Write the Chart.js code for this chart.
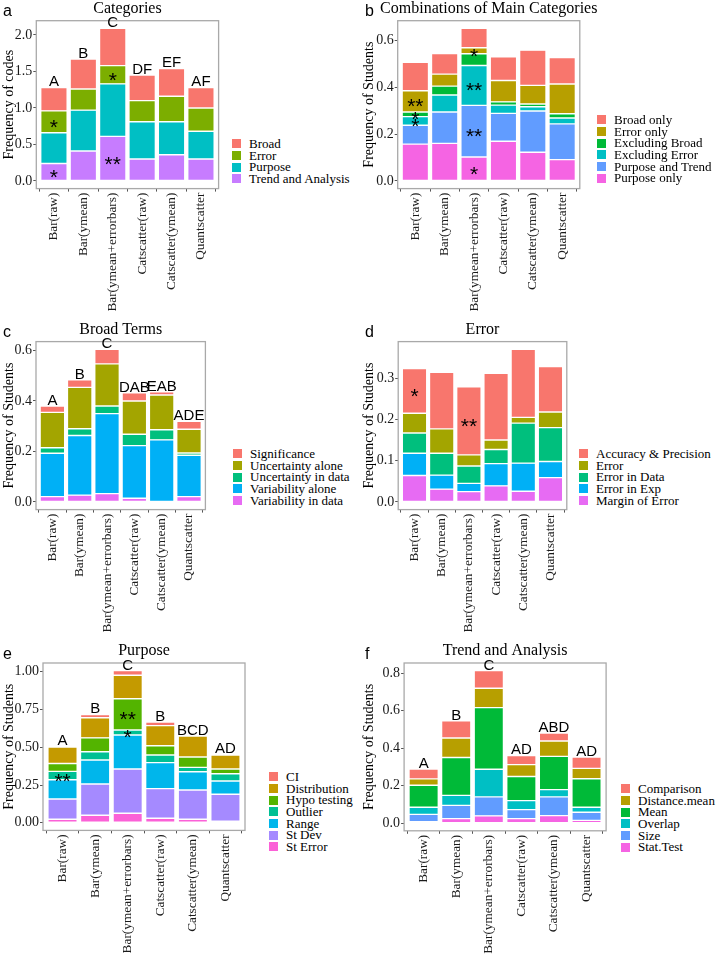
<!DOCTYPE html>
<html><head><meta charset="utf-8">
<script src="https://cdn.jsdelivr.net/npm/chart.js@4/dist/chart.umd.min.js"></script>
<style>
html,body{margin:0;padding:0;background:#fff;width:717px;height:957px;overflow:hidden;}
canvas{position:absolute;}
.legend{position:absolute;font-family:"Liberation Serif","Times New Roman",serif;font-size:13px;color:#000;z-index:5;}
.legend .row{display:flex;align-items:center;height:11.7px;white-space:nowrap;line-height:11.7px;}
.legend .key{width:11px;height:11px;margin-right:7px;box-sizing:border-box;border:0.6px solid #fff;}
</style></head><body>
<script>
// ---------- DATA ----------
const categories = ["Bar(raw)","Bar(ymean)","Bar(ymean+errorbars)","Catscatter(raw)","Catscatter(ymean)","Quantscatter"];

// a: Categories (legend order = top of stack first)
const aSeries = ["Broad","Error","Purpose","Trend and Analysis"];
const aBroad   = [0.32,0.41,0.51,0.35,0.38,0.28];
const aError   = [0.30,0.29,0.25,0.29,0.35,0.32];
const aPurpose = [0.42,0.56,0.72,0.51,0.45,0.38];
const aTrend   = [0.24,0.41,0.61,0.30,0.36,0.30];
const aLetters = ["A","B","C","DF","EF","AF"];
const aStars   = [[0,"Trend and Analysis","*"],[0,"Error","*"],[2,"Error","*"],[2,"Trend and Analysis","**"]];
const aTicks   = [0,0.5,1.0,1.5,2.0];

// b: Combinations of Main Categories
const bSeries = ["Broad only","Error only","Excluding Broad","Excluding Error","Purpose and Trend","Purpose only"];
const bBroadOnly    = [0.121,0.088,0.083,0.101,0.150,0.113];
const bErrorOnly    = [0.090,0.051,0.025,0.091,0.079,0.127];
const bExclBroad    = [0.020,0.038,0.050,0.014,0.012,0.018];
const bExclError    = [0.037,0.072,0.170,0.035,0.018,0.025];
const bPurposeTrend = [0.080,0.134,0.220,0.119,0.176,0.152];
const bPurposeOnly  = [0.157,0.160,0.102,0.169,0.122,0.091];
const bStars = [[0,"Error only","**"],[0,"Excluding Broad","*"],[0,"Excluding Error","*"],
                [2,"Error only","*"],[2,"Excluding Error","**"],[2,"Purpose and Trend","**"],[2,"Purpose only","*"]];
const bTicks = [0,0.2,0.4,0.6];

// c: Broad Terms
const cSeries = ["Significance","Uncertainty alone","Uncertainty in data","Variability alone","Variability in data"];
const cSignif   = [0.025,0.030,0.058,0.032,0.012,0.032];
const cUncAlone = [0.140,0.164,0.167,0.132,0.138,0.094];
const cUncData  = [0.022,0.027,0.030,0.045,0.040,0.009];
const cVarAlone = [0.172,0.236,0.317,0.208,0.246,0.164];
const cVarData  = [0.021,0.027,0.033,0.015,0.000,0.021];
const cLetters  = ["A","B","C","DAB","EAB","ADE"];
const cTicks    = [0,0.2,0.4,0.6];

// d: Error
const dSeries = ["Accuracy & Precision","Error","Error in Data","Error in Exp","Margin of Error"];
const dAccuracy = [0.108,0.137,0.165,0.162,0.165,0.110];
const dError    = [0.048,0.059,0.027,0.023,0.014,0.038];
const dInData   = [0.049,0.053,0.042,0.034,0.097,0.082];
const dInExp    = [0.054,0.034,0.020,0.054,0.068,0.039];
const dMargin   = [0.064,0.031,0.025,0.039,0.026,0.059];
const dStars    = [[0,"Accuracy & Precision","*"],[2,"Accuracy & Precision","**"]];
const dTicks    = [0,0.1,0.2,0.3];

// e: Purpose
const eSeries = ["CI","Distribution","Hypo testing","Outlier","Range","St Dev","St Error"];
const eCI      = [0.008,0.022,0.031,0.024,0.000,0.005];
const eDist    = [0.110,0.133,0.155,0.133,0.139,0.093];
const eHypo    = [0.052,0.092,0.207,0.061,0.068,0.031];
const eOutlier = [0.055,0.055,0.033,0.051,0.029,0.048];
const eRange   = [0.128,0.158,0.225,0.172,0.121,0.088];
const eStDev   = [0.134,0.207,0.293,0.196,0.194,0.179];
const eStErr   = [0.023,0.050,0.063,0.030,0.023,0.010];
const eLetters = ["A","B","C","B","BCD","AD"];
const eStars   = [[0,"Outlier","**"],[2,"Hypo testing","**"],[2,"Outlier","*"]];
const eTicks   = [0,0.25,0.5,0.75,1.0];

// f: Trend and Analysis
const fSeries = ["Comparison","Distance.mean","Mean","Overlap","Size","Stat.Test"];
const fComparison = [0.053,0.091,0.094,0.049,0.042,0.061];
const fDistMean   = [0.034,0.104,0.103,0.063,0.082,0.055];
const fMean       = [0.117,0.202,0.329,0.129,0.177,0.152];
const fOverlap    = [0.038,0.053,0.147,0.048,0.039,0.027];
const fSize       = [0.039,0.071,0.101,0.048,0.100,0.043];
const fStatTest   = [0.008,0.024,0.039,0.024,0.040,0.015];
const fLetters    = ["A","B","C","AD","ABD","AD"];
const fTicks      = [0,0.2,0.4,0.6,0.8];

// ---------- STYLE ----------
const pal4 = ["#F8766D","#7CAE00","#00BFC4","#C77CFF"];
const pal5 = ["#F8766D","#A3A500","#00BF7D","#00B0F6","#E76BF3"];
const pal6 = ["#F8766D","#B79F00","#00BA38","#00BFC4","#619CFF","#F564E3"];
const pal7 = ["#F8766D","#C49A00","#53B400","#00C094","#00B6EB","#A58AFF","#FB61D7"];
const SERIF = '"Liberation Serif","Times New Roman",serif';
const SANS  = '"Liberation Sans",Arial,sans-serif';

const annotPlugin = {
  id: 'annot',
  afterDatasetsDraw(chart) {
    const o = chart.options.plugins.annot;
    const {ctx, chartArea: ca} = chart;
    const x = chart.scales.x, y = chart.scales.y;
    ctx.save();
    // frame
    ctx.strokeStyle = '#a9a9a9'; ctx.lineWidth = 1.3;
    ctx.strokeRect(ca.left, ca.top, ca.right - ca.left, ca.bottom - ca.top);
    ctx.fillStyle = '#000';
    ctx.textAlign = 'center'; ctx.textBaseline = 'alphabetic';
    // letters above bars
    if (o.letters) {
      ctx.font = '15px ' + SANS;
      o.letters.forEach((t, i) => {
        ctx.fillText(t, x.getPixelForValue(i), y.getPixelForValue(o.totals[i]) - 1);
      });
    }
    // stars at segment middles
    if (o.stars) {
      ctx.font = '21px ' + SANS;
      o.stars.forEach(([i, s, t]) => {
        const k = o.series.indexOf(s);
        let below = 0;
        for (let j = o.series.length - 1; j > k; j--) below += o.values[j][i];
        const mid = below + o.values[k][i] / 2;
        ctx.fillText(t, x.getPixelForValue(i), y.getPixelForValue(mid) + 12);
      });
    }
    // title
    ctx.font = '16px ' + SERIF;
    ctx.fillText(o.title, (ca.left + ca.right) / 2, ca.top - 7.7);
    // panel letter
    ctx.textAlign = 'left';
    ctx.font = '16px ' + SANS;
    ctx.fillText(o.letter, o.letterX, ca.top - 4.5);
    ctx.restore();
  }
};

function panel(cfg) {
  const {series, values, colors, letters, stars, ticks, dec, yTitle, title, letter,
         cx, cy, cw, ch, L, R, T, B, letterX} = cfg;
  const cv = document.createElement('canvas');
  cv.width = cw; cv.height = ch;
  cv.style.left = cx + 'px'; cv.style.top = cy + 'px';
  cv.style.width = cw + 'px'; cv.style.height = ch + 'px';
  document.body.appendChild(cv);

  const totals = categories.map((_, i) => values.reduce((s, arr) => s + arr[i], 0));
  const maxT = Math.max(...totals);
  const datasets = [];
  for (let k = series.length - 1; k >= 0; k--) {
    datasets.push({
      label: series[k],
      data: values[k].map((v, i) => ({x: i, y: v})),
      backgroundColor: colors[k],
      borderColor: '#ffffff', borderWidth: 0.7, borderSkipped: false,
      barPercentage: 0.9, categoryPercentage: 1.0
    });
  }
  new Chart(cv, {
    type: 'bar',
    data: {datasets},
    plugins: [annotPlugin],
    options: {
      responsive: false, animation: false, events: [],
      layout: {padding: {top: T - cy, right: cx + cw - R, left: 0, bottom: 0}},
      plugins: {
        legend: {display: false}, tooltip: {enabled: false},
        annot: {letters, stars, totals, series, values, title, letter, letterX}
      },
      scales: {
        x: {
          type: 'linear', min: -0.6, max: categories.length - 0.4, stacked: true, offset: false,
          grid: {drawOnChartArea: false, drawTicks: true, tickLength: 3, color: '#555'},
          border: {display: false},
          afterBuildTicks: s => { s.ticks = categories.map((_, i) => ({value: i})); },
          afterFit: s => { s.height = cy + ch - B; },
          ticks: {autoSkip: false, minRotation: 90, maxRotation: 90, padding: 1,
                  font: {family: SERIF, size: 13.3}, color: '#1a1a1a',
                  callback: v => categories[v]}
        },
        y: {
          type: 'linear', stacked: true, min: -0.05 * maxT, max: 1.05 * maxT,
          grid: {drawOnChartArea: false, drawTicks: true, tickLength: 3, color: '#555'},
          border: {display: false},
          afterBuildTicks: s => { s.ticks = ticks.map(v => ({value: v})); },
          afterFit: s => { s.width = L - cx; },
          ticks: {padding: 1, font: {family: SERIF, size: 14}, color: '#1a1a1a',
                  callback: v => Number(v).toFixed(dec)},
          title: {display: true, text: yTitle, font: {family: SERIF, size: 14, lineHeight: 1},
                  color: '#000', padding: {top: 2, bottom: 0}}
        }
      }
    }
  });
}

function legend(series, colors, left, top) {
  const d = document.createElement('div');
  d.className = 'legend';
  d.style.left = left + 'px'; d.style.top = top + 'px';
  series.forEach((s, k) => {
    const r = document.createElement('div'); r.className = 'row';
    const key = document.createElement('div'); key.className = 'key'; key.style.background = colors[k];
    const t = document.createElement('span'); t.textContent = s;
    r.appendChild(key); r.appendChild(t); d.appendChild(r);
  });
  document.body.appendChild(d);
}

panel({series: aSeries, values: [aBroad,aError,aPurpose,aTrend], colors: pal4, letters: aLetters, stars: aStars,
  ticks: aTicks, dec: 1, yTitle: "Frequency of codes", title: "Categories", letter: "a", letterX: 3,
  cx: 0, cy: 0, cw: 228, ch: 320, L: 36.3, R: 218.6, T: 20.7, B: 188.6});
legend(aSeries, pal4, 231, 138);

panel({series: bSeries, values: [bBroadOnly,bErrorOnly,bExclBroad,bExclError,bPurposeTrend,bPurposeOnly], colors: pal6,
  letters: null, stars: bStars, ticks: bTicks, dec: 1, yTitle: "Frequency of Students",
  title: "Combinations of Main Categories", letter: "b", letterX: 5,
  cx: 360, cy: 0, cw: 270, ch: 320, L: 397.7, R: 579.8, T: 20.7, B: 188.6});
legend(bSeries, pal6, 596, 114);

panel({series: cSeries, values: [cSignif,cUncAlone,cUncData,cVarAlone,cVarData], colors: pal5, letters: cLetters,
  stars: null, ticks: cTicks, dec: 1, yTitle: "Frequency of Students", title: "Broad Terms", letter: "c", letterX: 3,
  cx: 0, cy: 322, cw: 215, ch: 320, L: 36, R: 205.4, T: 341.6, B: 509.6});
legend(cSeries, pal5, 232, 448);

panel({series: dSeries, values: [dAccuracy,dError,dInData,dInExp,dMargin], colors: pal5, letters: null,
  stars: dStars, ticks: dTicks, dec: 1, yTitle: "Frequency of Students", title: "Error", letter: "d", letterX: 5,
  cx: 360, cy: 322, cw: 215, ch: 320, L: 398.2, R: 566.8, T: 341.6, B: 509.6});
legend(dSeries, pal5, 578, 448);

panel({series: eSeries, values: [eCI,eDist,eHypo,eOutlier,eRange,eStDev,eStErr], colors: pal7, letters: eLetters,
  stars: eStars, ticks: eTicks, dec: 2, yTitle: "Frequency of Students", title: "Purpose", letter: "e", letterX: 3,
  cx: 0, cy: 643, cw: 256, ch: 314, L: 43, R: 245, T: 663, B: 830.4});
legend(eSeries, pal7, 268, 771);

panel({series: fSeries, values: [fComparison,fDistMean,fMean,fOverlap,fSize,fStatTest], colors: pal6, letters: fLetters,
  stars: null, ticks: fTicks, dec: 1, yTitle: "Frequency of Students", title: "Trend and Analysis", letter: "f", letterX: 5,
  cx: 360, cy: 643, cw: 256, ch: 314, L: 404.1, R: 606.1, T: 663, B: 830.8});
legend(fSeries, pal6, 620, 783);
</script>
</body></html>
